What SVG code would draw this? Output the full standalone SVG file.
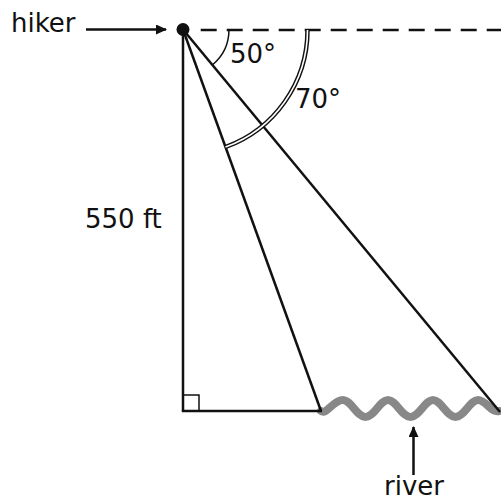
<svg xmlns="http://www.w3.org/2000/svg" width="501" height="501" viewBox="0 0 501 501">
<defs>
<style>
.ln{stroke:#111;stroke-width:2.5;fill:none;stroke-linecap:butt}
.thin{stroke:#111;stroke-width:1.5;fill:none}
.lbl{font-family:"DejaVu Sans","Liberation Sans",sans-serif;font-size:26px;fill:#111}
</style>
<marker id="ah" markerWidth="12" markerHeight="10" refX="10" refY="5" orient="auto" markerUnits="userSpaceOnUse">
<path d="M0,0 L11,5 L0,10 Z" fill="#111"/>
</marker>
</defs>
<rect width="501" height="501" fill="#fff"/>
<g id="river">
<path d="M321,411 C327,415 333,400 343,400 C351,400 357,417 365.5,417 C374,417 380,400 388,400 C396,400 402,417 410.5,417 C419,417 425,400 433,400 C441,400 447,417 455.5,417 C464,417 470,400 478,400 C486,400 491,413 499,411" stroke="#888" stroke-width="8" fill="none" stroke-linecap="round"/>
</g>
<g id="triangle">
<line class="ln" x1="183" y1="29.5" x2="183" y2="411"/>
<line class="ln" x1="181.8" y1="411" x2="322" y2="411"/>
<line class="ln" x1="183" y1="29.5" x2="321" y2="411"/>
<line class="ln" x1="183" y1="29.5" x2="500" y2="412"/>
<rect class="thin" x="183" y="395" width="16" height="16"/>
</g>
<g id="horizon">
<line x1="200.7" y1="30" x2="501" y2="30" stroke="#111" stroke-width="2.5" stroke-dasharray="16 10"/>
</g>
<g id="angles">
<path d="M229,30 A46,46 0 0 1 212.3,65" class="thin"/>
<path d="M307.5,30 A124.5,124.5 0 0 1 225.5,147" stroke="#111" stroke-width="4.5" fill="none"/>
<path d="M307.5,30 A124.5,124.5 0 0 1 225.5,147" stroke="#fff" stroke-width="1.6" fill="none"/>
</g>
<g id="hiker">
<circle cx="183" cy="29.5" r="6.5" fill="#111"/>
</g>
<g id="connectors">
<line class="ln" x1="86" y1="29.5" x2="166" y2="29.5" marker-end="url(#ah)"/>
<line class="ln" x1="413.5" y1="475" x2="413.5" y2="427" marker-end="url(#ah)"/>
</g>
<g id="labels">
<text class="lbl" x="11" y="32">hiker</text>
<text class="lbl" x="230" y="63">50°</text>
<text class="lbl" x="295" y="108">70°</text>
<text class="lbl" x="85" y="228">550 ft</text>
<text class="lbl" x="384" y="495">river</text>
</g>
</svg>
